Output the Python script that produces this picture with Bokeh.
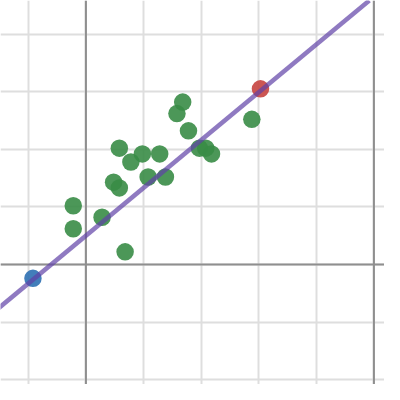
from bokeh.plotting import figure
from bokeh.models import Span, FixedTicker, Range1d, Slope
from bokeh.embed import file_html
from bokeh.resources import INLINE

# data (grid units)
green_x = [-0.22, -0.22, 0.28, 0.68, 0.48, 0.58, 0.58, 0.78, 0.98, 1.08, 1.28, 1.38, 1.58, 1.68, 1.78, 1.97, 2.08, 2.18, 2.88]
green_y = [1.02, 0.62, 0.82, 0.22, 1.43, 1.33, 2.02, 1.78, 1.92, 1.52, 1.92, 1.52, 2.62, 2.82, 2.32, 2.02, 2.02, 1.92, 2.52]
blue_x = [-0.92]
blue_y = [-0.24]
red_x = [3.03]
red_y = [3.05]
line_slope = 0.83
line_intercept = 0.50
grid_x = [-1, 0, 1, 2, 3, 4, 5]
grid_y = [-2, -1, 0, 1, 2, 3, 4]

p = figure(width=384, height=384, output_backend="svg", toolbar_location=None,
           x_range=Range1d(-89/60, 311/60), y_range=Range1d(-125/60, 275/60),
           min_border=0)
p.axis.visible = False
p.outline_line_color = None
p.background_fill_color = "white"
p.xgrid.ticker = FixedTicker(ticks=grid_x)
p.ygrid.ticker = FixedTicker(ticks=grid_y)
p.grid.grid_line_color = "#dedede"
p.grid.grid_line_width = 2

for loc, dim in [(0, "height"), (5, "height"), (0, "width")]:
    p.add_layout(Span(location=loc, dimension=dim, line_color="#8f8f8f", line_width=2))

p.scatter(green_x, green_y, size=17.5, fill_color="#388c46", fill_alpha=0.9, line_color=None)
p.add_layout(Slope(gradient=line_slope, y_intercept=line_intercept, line_color="#6042a6",
                   line_alpha=0.7, line_width=4.5))
p.scatter(blue_x, blue_y, size=17.5, fill_color="#2d70b3", fill_alpha=0.9, line_color=None)
p.scatter(red_x, red_y, size=17.5, fill_color="#c74440", fill_alpha=0.9, line_color=None)

open("out.html", "w").write(file_html(p, INLINE))
